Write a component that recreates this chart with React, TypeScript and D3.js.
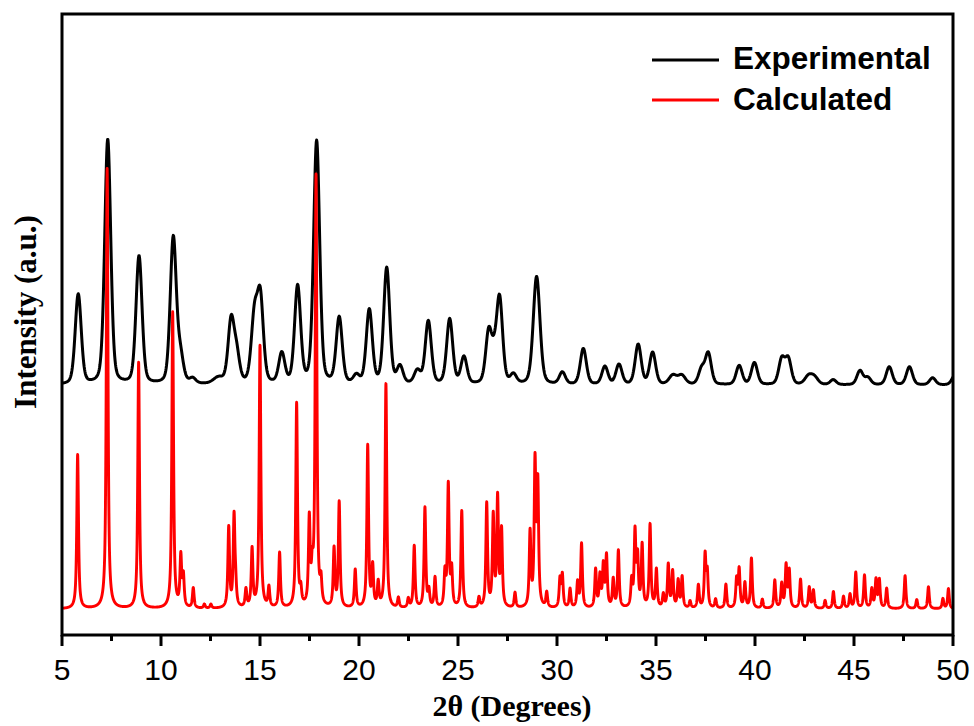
import React from "react";
import * as d3 from "d3";

// ---- Data (2θ in degrees, intensities in arbitrary units) ----
const xTicks = [5, 10, 15, 20, 25, 30, 35, 40, 45, 50];
const xMinorTicks = [7.5, 12.5, 17.5, 22.5, 27.5, 32.5, 37.5, 42.5, 47.5];

// Experimental pattern: peak positions, heights, widths (FWHM, degrees)
const expPeakPos = [5.82, 7.31, 8.89, 10.62, 10.98, 11.6, 12.9, 13.54, 13.82, 14.72, 15.02, 16.1, 16.9, 17.86, 19.0, 19.87, 20.52, 21.4, 22.07, 22.95, 23.5, 24.58, 25.3, 26.55, 26.82, 27.1, 27.8, 28.97, 30.27, 31.33, 32.42, 33.13, 34.1, 34.83, 35.85, 36.3, 37.3, 37.64, 39.2, 39.97, 41.35, 41.68, 42.7, 43.0, 43.95, 45.3, 45.7, 46.78, 47.8, 48.97, 50.1];
const expPeakHeight = [90, 245, 128, 146, 26, 5, 6, 62, 28, 66, 82, 30, 97, 243, 66, 8, 74, 116, 17, 13, 63, 65, 27, 50, 20, 84, 9, 108, 12, 36, 18, 20, 40, 32, 9, 9, 15, 31, 19, 22, 25, 25, 8, 7, 5, 14, 7, 18, 18, 7, 10];
const expPeakWidth = [0.36, 0.36, 0.36, 0.36, 0.36, 0.36, 0.6, 0.36, 0.36, 0.38, 0.36, 0.36, 0.36, 0.36, 0.36, 0.36, 0.36, 0.36, 0.36, 0.38, 0.36, 0.36, 0.36, 0.36, 0.36, 0.36, 0.36, 0.4, 0.36, 0.36, 0.36, 0.36, 0.36, 0.36, 0.45, 0.45, 0.36, 0.36, 0.36, 0.36, 0.36, 0.36, 0.45, 0.45, 0.36, 0.36, 0.36, 0.36, 0.36, 0.36, 0.36];
const expOffset = 250;

// Calculated pattern: peak positions and heights
const calcPeakPos = [5.79, 7.28, 8.87, 10.59, 11.0, 11.13, 11.63, 12.19, 12.52, 13.42, 13.69, 13.77, 14.29, 14.6, 15.0, 15.45, 15.99, 16.85, 17.06, 17.49, 17.64, 17.83, 18.08, 18.74, 19.0, 19.81, 20.44, 20.69, 20.97, 21.36, 21.99, 22.49, 22.79, 23.33, 23.53, 23.84, 24.34, 24.51, 24.68, 25.19, 26.06, 26.45, 26.78, 27.0, 27.2, 27.88, 28.64, 28.89, 29.03, 29.48, 30.15, 30.27, 30.66, 31.04, 31.24, 31.95, 32.17, 32.34, 32.5, 32.84, 33.1, 33.77, 33.94, 34.07, 34.3, 34.7, 35.02, 35.37, 35.62, 35.84, 36.12, 36.32, 36.72, 37.14, 37.48, 37.59, 38.01, 38.53, 39.07, 39.2, 39.49, 39.82, 40.37, 41.0, 41.35, 41.57, 41.73, 42.3, 42.74, 42.95, 43.54, 43.96, 44.47, 44.8, 45.09, 45.53, 45.9, 46.11, 46.28, 46.65, 47.58, 48.17, 48.76, 49.49, 49.77];
const calcPeakHeight = [154, 440, 246, 296, 50, 30, 20, 4, 4, 80, 90, 18, 18, 58, 262, 20, 55, 204, 15, 85, 30, 430, 22, 58, 105, 38, 162, 40, 24, 224, 10, 9, 62, 100, 16, 30, 33, 122, 36, 97, 10, 104, 90, 108, 76, 15, 74, 142, 120, 15, 28, 32, 19, 25, 64, 38, 31, 41, 51, 28, 57, 26, 74, 48, 62, 83, 38, 13, 43, 36, 27, 31, 7, 23, 52, 34, 9, 24, 28, 38, 25, 50, 9, 28, 24, 42, 37, 29, 21, 18, 8, 17, 12, 14, 36, 33, 19, 28, 28, 20, 33, 9, 22, 10, 20];
const calcWidth = 0.1;
const calcOffset = 26;

const seriesNames = ["Experimental", "Calculated"];
const seriesColors = ["#000000", "#ff0000"];

// ---- profile helpers ----
function pseudoVoigt(x: number, c: number, w: number, eta: number) {
  const t = (x - c) / w;
  const L = 1 / (1 + 4 * t * t);
  const G = Math.exp(-4 * Math.LN2 * t * t);
  return eta * L + (1 - eta) * G;
}

function buildPattern(pos: number[], hts: number[], widths: number[], eta: number, offset: number, step: number) {
  const pts: [number, number][] = [];
  const n = Math.round((50 - 5) / step);
  for (let i = 0; i <= n; i++) {
    const x = 5 + i * step;
    let y = offset;
    for (let k = 0; k < pos.length; k++) {
      if (Math.abs(x - pos[k]) > 6) continue;
      y += hts[k] * pseudoVoigt(x, pos[k], widths[k], eta);
    }
    pts.push([x, y]);
  }
  return pts;
}

const W = 974, H = 726;
const M = { left: 62, right: 953, top: 14, bottom: 635 };

export default function App() {
  const x = d3.scaleLinear().domain([5, 50]).range([M.left, M.right]);
  const y = d3.scaleLinear().domain([0, 621]).range([M.bottom, M.top]);

  const expData = buildPattern(expPeakPos, expPeakHeight, expPeakWidth, 0.3, expOffset, 0.02);
  const calcData = buildPattern(calcPeakPos, calcPeakHeight, calcPeakPos.map(() => calcWidth), 0.85, calcOffset, 0.005);

  const line = d3.line<[number, number]>().x(d => x(d[0])).y(d => y(d[1]));

  return (
    <svg width={W} height={H} style={{ position: "absolute", left: 0, top: 0, background: "#fff" }}>
      <defs>
        <clipPath id="plotclip">
          <rect x={M.left} y={M.top} width={M.right - M.left} height={M.bottom - M.top} />
        </clipPath>
      </defs>
      <g clipPath="url(#plotclip)">
        <path d={line(expData) || ""} fill="none" stroke={seriesColors[0]} strokeWidth={3} strokeLinejoin="round" />
        <path d={line(calcData) || ""} fill="none" stroke={seriesColors[1]} strokeWidth={2.9} strokeLinejoin="round" />
      </g>
      {/* frame */}
      <rect x={M.left} y={M.top} width={M.right - M.left} height={M.bottom - M.top} fill="none" stroke="#000" strokeWidth={3} />
      {/* ticks */}
      {xTicks.map(t => (
        <g key={"t" + t}>
          <line x1={x(t)} x2={x(t)} y1={M.bottom} y2={M.bottom + 11} stroke="#000" strokeWidth={3} />
          <text x={x(t)} y={680} textAnchor="middle" fontFamily="Liberation Sans, Arial, sans-serif" fontSize={30} fill="#000">{t}</text>
        </g>
      ))}
      {xMinorTicks.map(t => (
        <line key={"m" + t} x1={x(t)} x2={x(t)} y1={M.bottom} y2={M.bottom + 6} stroke="#000" strokeWidth={3} />
      ))}
      {/* axis titles */}
      <text x={512} y={716} textAnchor="middle" fontFamily="Liberation Serif, Times New Roman, serif" fontWeight="bold" fontSize={30} fill="#000">2θ (Degrees)</text>
      <text transform={`translate(36, 312) rotate(-90)`} textAnchor="middle" fontFamily="Liberation Serif, Times New Roman, serif" fontWeight="bold" fontSize={31} fill="#000">Intensity (a.u.)</text>
      {/* legend */}
      {seriesNames.map((n, i) => (
        <g key={n}>
          <line x1={652} x2={719} y1={60 + i * 40} y2={60 + i * 40} stroke={seriesColors[i]} strokeWidth={2.8} />
          <text x={733} y={69 + i * 41} fontFamily="Liberation Sans, Arial, sans-serif" fontWeight="bold" fontSize={31.5} fill="#000">{n}</text>
        </g>
      ))}
    </svg>
  );
}
